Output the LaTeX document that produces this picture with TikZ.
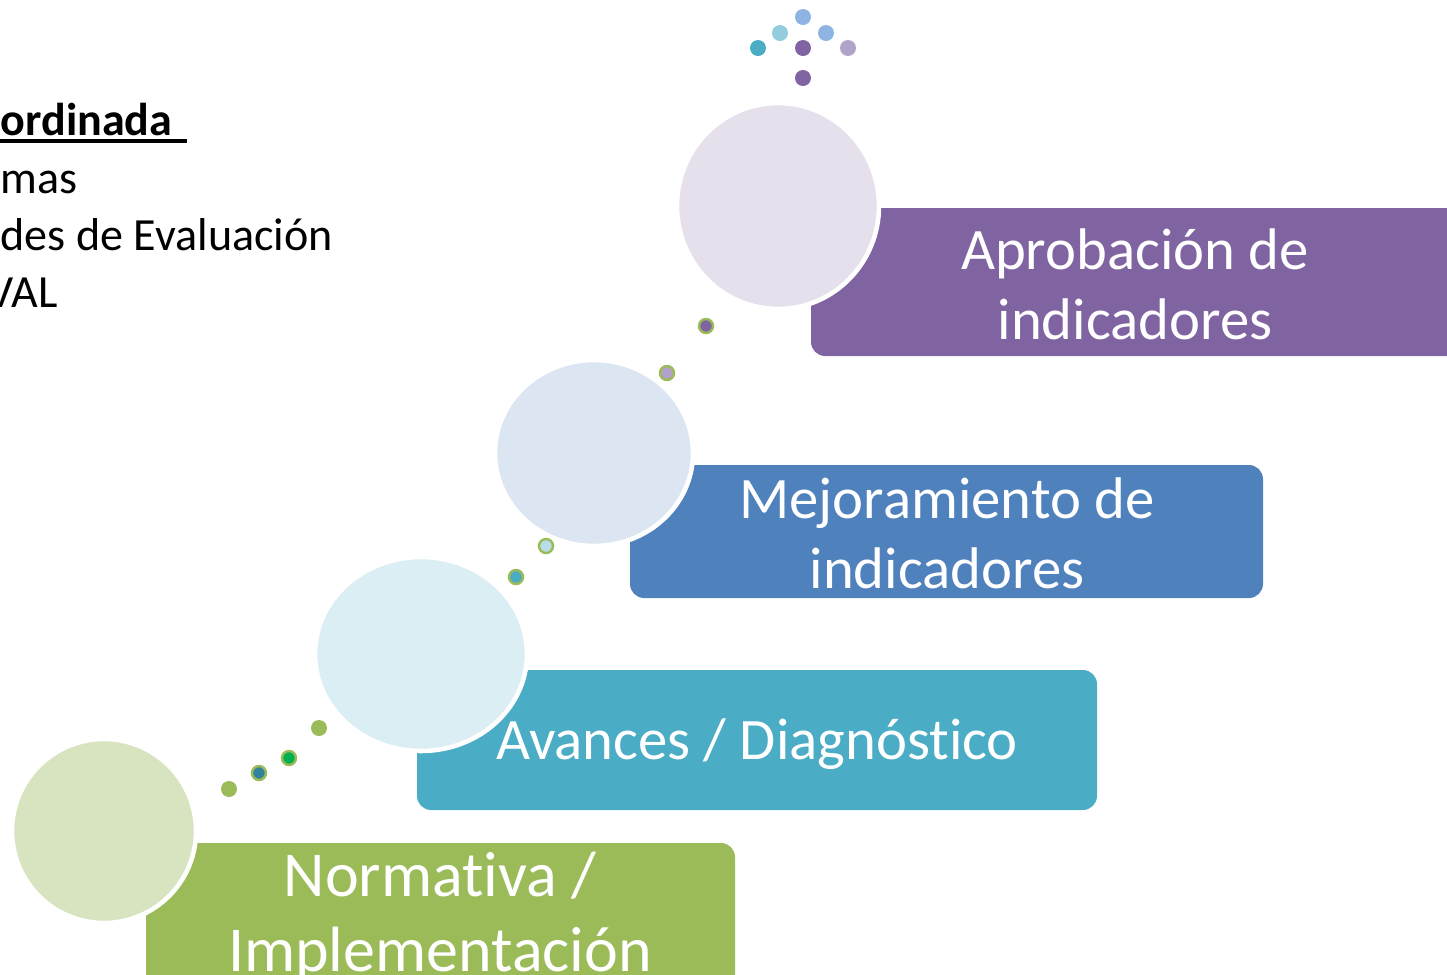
\documentclass[tikz,border=0pt]{standalone}
\usepackage{fontspec}
\setmainfont[Ligatures=NoCommon]{Carlito}
\usetikzlibrary{calc}
\usetikzlibrary{positioning}

\definecolor{barGreen}{HTML}{9BBB59}
\definecolor{barTeal}{HTML}{4BACC6}
\definecolor{barBlue}{HTML}{4F81BD}
\definecolor{barPurple}{HTML}{8064A2}
\definecolor{circGreen}{HTML}{D8E4C0}
\definecolor{circTeal}{HTML}{DBEEF4}
\definecolor{circBlue}{HTML}{DCE6F2}
\definecolor{circPurple}{HTML}{E5E0EC}
\definecolor{dotTeal}{HTML}{31849B}
\definecolor{dotGreen}{HTML}{00B050}
\definecolor{dotSky}{HTML}{B7DEE8}
\definecolor{dotLilac}{HTML}{B3A2C7}
\definecolor{dotBlue}{HTML}{8EB4E3}
\definecolor{dotAqua}{HTML}{93CDDD}

\tikzset{
    bar/.style={rounded corners=4pt},
    disc/.style={draw=white, line width=1.3pt},
    label/.style={text=white, align=center, font=\fontsize{16.7}{20}\selectfont},
    side/.style={anchor=base west, inner sep=0pt, font=\fontsize{13.1}{16}\selectfont},
    bead/.style={draw=barGreen, line width=0.7pt}
}

\begin{document}
\begin{tikzpicture}[x=0.01cm,y=-0.01cm]
    \useasboundingbox (0,0) rectangle (1447,975);
    \clip (0,0) rectangle (1447,975);

    \coordinate (norm) at (104,831);
    \coordinate (avan) at (421,654);
    \coordinate (mejo) at (594,453);
    \coordinate (apro) at (778,206);

    % left text
    \node[side] (t1) at (0,135) {\textbf{ordinada\ }};
    \draw[line width=0.9pt] (0,141) -- (187,141);
    \node[side] (t2) at (0,193) {mas};
    \node[side] (t3) at (0,250) {des de Evaluación};
    \node[side] (t4) at (-13,307) {VAL};

    % bars
    \fill[bar, barGreen] (146,843) rectangle (735,1010);
    \fill[bar, barTeal] (417,670) rectangle (1097,810);
    \fill[bar, barBlue] (630,465) rectangle (1263,598);
    \fill[bar, barPurple] (811,208) rectangle (1470,356);

    \node[label, font=\fontsize{18.2}{21.4}\selectfont] (normtext) at (440,917) {Normativa /\\Implementación};
    \node[label] (avantext) at (757,744) {Avances / Diagnóstico};
    \node[label] (mejotext) at (947,533) {Mejoramiento de\\indicadores};
    \node[label] (aprotext) at (1135,284) {Aprobación de\\indicadores};

    % circles
    \draw[disc, fill=circGreen] (norm) ellipse [x radius=92, y radius=92];
    \draw[disc, fill=circTeal] (avan) ellipse [x radius=106, y radius=97];
    \draw[disc, fill=circBlue] (mejo) ellipse [x radius=99, y radius=93];
    \draw[disc, fill=circPurple] (apro) ellipse [x radius=101, y radius=103];

    % beads between circles
    \fill[barGreen] (229,789) circle [radius=8];
    \filldraw[bead, fill=dotTeal] (259,773) circle [radius=7];
    \filldraw[bead, fill=dotGreen] (289,758) circle [radius=7];
    \fill[barGreen] (319,728) circle [radius=8];

    \filldraw[bead, fill=barTeal] (516,577) circle [radius=7];
    \filldraw[bead, fill=dotSky] (546,546) circle [radius=7];

    \filldraw[bead, fill=dotLilac] (667,373) circle [radius=7];
    \filldraw[bead, fill=barPurple] (706,326) circle [radius=7];

    % top cluster
    \fill[dotBlue] (803,17) circle [radius=8];
    \fill[dotAqua] (780,33) circle [radius=8];
    \fill[dotBlue] (826,33) circle [radius=8];
    \fill[barTeal] (758,48) circle [radius=8];
    \fill[barPurple] (803,48) circle [radius=8];
    \fill[dotLilac] (848,48) circle [radius=8];
    \fill[barPurple] (803,78) circle [radius=8];
\end{tikzpicture}
\end{document}
